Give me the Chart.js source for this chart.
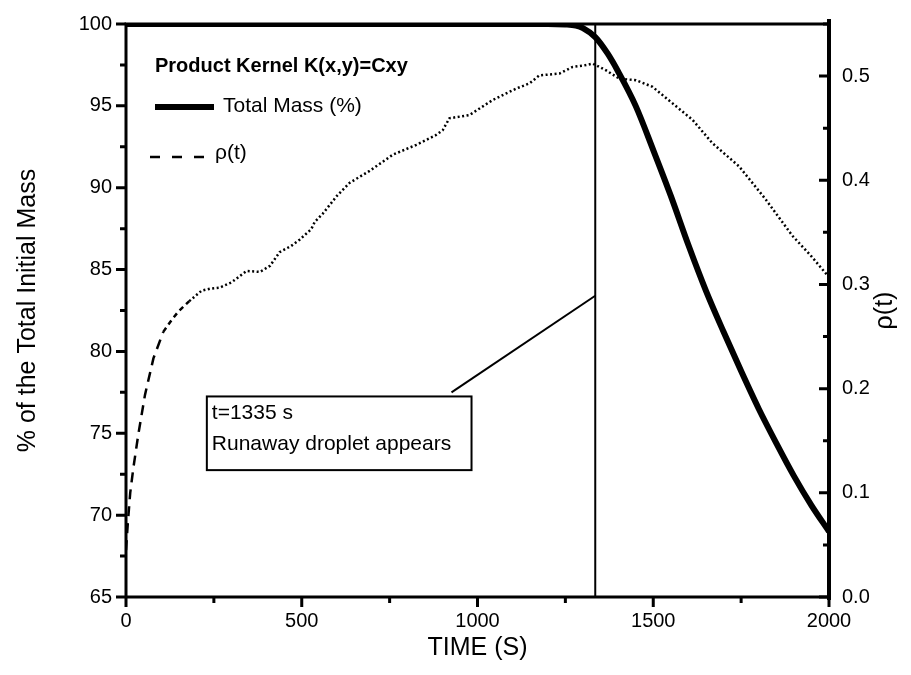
<!DOCTYPE html>
<html>
<head>
<meta charset="utf-8">
<script src="https://cdn.jsdelivr.net/npm/chart.js@4.4.1/dist/chart.umd.min.js"></script>
<style>
html, body { margin: 0; padding: 0; background: #fff; }
#wrap { width: 911px; height: 675px; }
</style>
</head>
<body>
<div id="wrap"><canvas id="mass-chart" width="911" height="675"></canvas></div>
<script>
// Product kernel: total mass and rho(t) over time
const massTime = [0, 500, 1000, 1200, 1250, 1280, 1300, 1335, 1370, 1400, 1450, 1500, 1550, 1600, 1650, 1700, 1750, 1800, 1850, 1900, 1950, 2000];
const massValues = [100, 100, 100, 100, 99.97, 99.9, 99.75, 99.2, 98.2, 97.1, 95.0, 92.3, 89.5, 86.5, 83.7, 81.2, 78.8, 76.5, 74.4, 72.4, 70.6, 69.0];

const rhoTime = [0, 5, 12, 21, 35, 54, 78, 106, 130, 149, 180, 215, 240, 267, 300, 343, 381, 410, 437, 470, 494, 527, 537, 560, 600, 636, 693, 759, 826, 880, 901, 920, 977, 1043, 1110, 1148, 1176, 1233, 1271, 1300, 1328, 1366, 1403, 1451, 1498, 1555, 1612, 1668, 1744, 1820, 1896, 1950, 2000];
const rhoValues = [0.045, 0.07, 0.10, 0.124, 0.156, 0.194, 0.229, 0.2545, 0.266, 0.274, 0.284, 0.294, 0.296, 0.297, 0.302, 0.313, 0.312, 0.318, 0.331, 0.337, 0.343, 0.353, 0.360, 0.368, 0.385, 0.3975, 0.409, 0.4245, 0.434, 0.443, 0.448, 0.4595, 0.4626, 0.477, 0.488, 0.493, 0.5007, 0.5024, 0.5088, 0.510, 0.512, 0.5055, 0.4976, 0.496, 0.4897, 0.4738, 0.4579, 0.4357, 0.4134, 0.3816, 0.3467, 0.327, 0.307];

const xTicks = [0, 500, 1000, 1500, 2000];
const massTicks = [65, 70, 75, 80, 85, 90, 95, 100];
const rhoTicks = [0.0, 0.1, 0.2, 0.3, 0.4, 0.5];

const runawayTime = 1335;
const noteLines = ['t=1335 s', 'Runaway droplet appears'];

// annotation box + pointer, in data units (time, % mass)
const noteBox = { x0: 230, x1: 983, y0: 77.25, y1: 72.75 };
const notePointer = [{ x: 926, y: 77.5 }, { x: runawayTime, y: 83.4 }];

const FONT = 'Arial, "Liberation Sans", sans-serif';

function toPoints(xs, ys) {
    return xs.map((x, i) => ({ x: x, y: ys[i] }));
}

function fixTicks(values) {
    return function (scale) {
        scale.ticks = values.map(v => ({ value: v }));
    };
}

const decorations = {
    id: 'decorations',
    afterDraw(chart) {
        const ctx = chart.ctx;
        const x = chart.scales.x;
        const yl = chart.scales.y;
        const yr = chart.scales.y1;
        const a = chart.chartArea;
        ctx.save();
        ctx.strokeStyle = '#000';
        ctx.fillStyle = '#000';

        // frame
        ctx.lineWidth = 3;
        ctx.beginPath();
        ctx.moveTo(a.left, a.bottom + 1);
        ctx.lineTo(a.left, a.top);
        ctx.lineTo(a.right, a.top);
        ctx.moveTo(a.left, a.bottom);
        ctx.lineTo(a.right, a.bottom);
        ctx.stroke();
        ctx.lineWidth = 4;
        ctx.beginPath();
        ctx.moveTo(a.right, a.top - 5);
        ctx.lineTo(a.right, a.bottom + 3);
        ctx.stroke();

        // tick marks
        ctx.lineWidth = 3;
        ctx.beginPath();
        for (let v = 0; v <= 2000; v += 250) {
            const px = x.getPixelForValue(v);
            ctx.moveTo(px, a.bottom);
            ctx.lineTo(px, a.bottom + (v % 500 === 0 ? 10 : 6));
        }
        for (let v = 65; v <= 100; v += 2.5) {
            const py = yl.getPixelForValue(v);
            ctx.moveTo(a.left, py);
            ctx.lineTo(a.left - (v % 5 === 0 ? 10 : 6), py);
        }
        for (let i = 0; i <= 11; i++) {
            const py = yr.getPixelForValue(i * 0.05);
            ctx.moveTo(a.right, py);
            ctx.lineTo(a.right - (i % 2 === 0 ? 10 : 6), py);
        }
        ctx.stroke();

        // legend
        ctx.textBaseline = 'middle';
        ctx.textAlign = 'left';
        ctx.font = 'bold 20px ' + FONT;
        ctx.fillText('Product Kernel K(x,y)=Cxy', 155, 66);
        ctx.lineWidth = 6;
        ctx.beginPath();
        ctx.moveTo(155, 107);
        ctx.lineTo(214, 107);
        ctx.stroke();
        ctx.font = '21px ' + FONT;
        ctx.fillText('Total Mass (%)', 223, 106);
        ctx.lineWidth = 2.5;
        ctx.setLineDash([10, 12]);
        ctx.beginPath();
        ctx.moveTo(150, 157);
        ctx.lineTo(206, 157);
        ctx.stroke();
        ctx.setLineDash([]);
        ctx.fillText('\u03c1(t)', 215, 153);

        // annotation box
        const bx0 = x.getPixelForValue(noteBox.x0);
        const bx1 = x.getPixelForValue(noteBox.x1);
        const by0 = yl.getPixelForValue(noteBox.y0);
        const by1 = yl.getPixelForValue(noteBox.y1);
        ctx.lineWidth = 2;
        ctx.strokeRect(bx0, by0, bx1 - bx0, by1 - by0);
        ctx.font = '21px ' + FONT;
        ctx.fillText(noteLines[0], bx0 + 5, by0 + 17);
        ctx.fillText(noteLines[1], bx0 + 5, by0 + 48);

        // right axis title, reading upward
        ctx.translate(885, (a.top + a.bottom) / 2);
        ctx.rotate(-Math.PI / 2);
        ctx.textAlign = 'center';
        ctx.font = '25px ' + FONT;
        ctx.fillText('\u03c1(t)', 0, 0);
        ctx.restore();
    }
};

const chart = new Chart(document.getElementById('mass-chart'), {
    type: 'line',
    data: {
        datasets: [
            {
                label: 'Total Mass (%)',
                data: toPoints(massTime, massValues),
                yAxisID: 'y',
                borderColor: '#000',
                borderWidth: 6,
                pointRadius: 0,
                cubicInterpolationMode: 'monotone'
            },
            {
                label: '\u03c1(t)',
                data: toPoints(rhoTime, rhoValues),
                yAxisID: 'y1',
                borderColor: '#000',
                borderWidth: 2.5,
                pointRadius: 0,
                borderCapStyle: 'butt',
                segment: {
                    borderDash: c => c.p0.parsed.x < 80 ? [10, 7] : (c.p0.parsed.x < 150 ? [5, 4] : [2, 2.5])
                }
            },
            {
                label: 'runaway',
                data: [{ x: runawayTime, y: 65 }, { x: runawayTime, y: 100 }],
                yAxisID: 'y',
                borderColor: '#000',
                borderWidth: 2,
                pointRadius: 0
            },
            {
                label: 'pointer',
                data: notePointer,
                yAxisID: 'y',
                borderColor: '#000',
                borderWidth: 2,
                pointRadius: 0
            }
        ]
    },
    options: {
        responsive: false,
        animation: false,
        devicePixelRatio: 1,
        layout: { padding: { top: 20, left: 0, right: 0, bottom: 0 } },
        plugins: { legend: { display: false }, tooltip: { enabled: false } },
        scales: {
            x: {
                type: 'linear',
                min: 0,
                max: 2000,
                afterBuildTicks: fixTicks(xTicks),
                afterFit: s => { s.height = 78; },
                grid: { display: false, drawTicks: false },
                border: { display: false },
                ticks: { color: '#000', padding: 14, font: { family: FONT, size: 20, lineHeight: 1 }, maxRotation: 0, callback: v => String(v) },
                title: { display: true, text: 'TIME (S)', color: '#000', padding: { top: 0, bottom: 14 }, font: { family: FONT, size: 25, lineHeight: 1 } }
            },
            y: {
                type: 'linear',
                position: 'left',
                min: 65,
                max: 100,
                afterBuildTicks: fixTicks(massTicks),
                afterFit: s => { s.width = 126; },
                grid: { display: false, drawTicks: false },
                border: { display: false },
                ticks: { color: '#000', padding: 14, font: { family: FONT, size: 20, lineHeight: 1 }, callback: v => String(v) },
                title: { display: true, text: '% of the Total Initial Mass', color: '#000', padding: { top: 16, bottom: 0 }, font: { family: FONT, size: 25, lineHeight: 1 } }
            },
            y1: {
                type: 'linear',
                position: 'right',
                min: 0,
                max: 0.55,
                afterBuildTicks: fixTicks(rhoTicks),
                afterFit: s => { s.width = 82; },
                grid: { display: false, drawTicks: false },
                border: { display: false },
                ticks: { color: '#000', padding: 13, font: { family: FONT, size: 20, lineHeight: 1 }, callback: v => v.toFixed(1) }
            }
        }
    },
    plugins: [decorations]
});
</script>
</body>
</html>
